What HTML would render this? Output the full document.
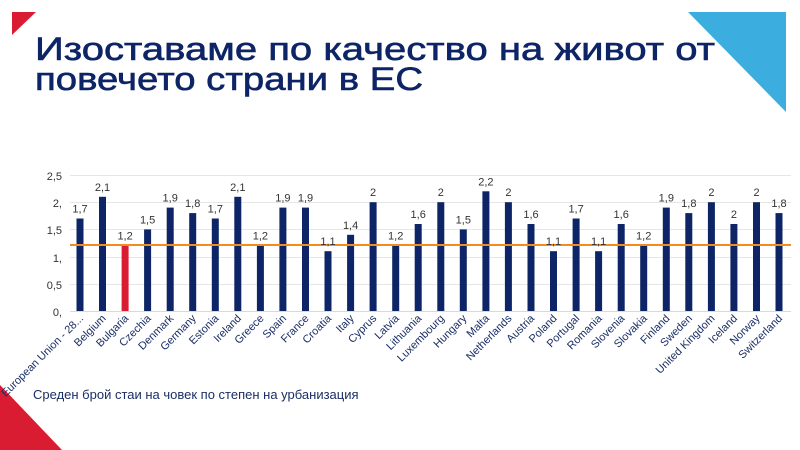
<!DOCTYPE html>
<html><head><meta charset="utf-8"><style>
html,body{margin:0;padding:0;background:#fff;}
svg{display:block;font-family:"Liberation Sans","DejaVu Sans",sans-serif;}
</style></head><body>
<svg width="800" height="450" viewBox="0 0 800 450">
<polygon points="12,12 36,12 12,35" fill="#d91c32"/>
<polygon points="688,12 786,12 786,112" fill="#3badde"/>
<polygon points="0,385 0,450 62,450" fill="#d91c32"/>
<text x="35" y="60" font-size="32" fill="#0d2566" stroke="#0d2566" stroke-width="0.6" textLength="680" lengthAdjust="spacingAndGlyphs">Изоставаме по качество на живот  от</text>
<text x="35" y="90" font-size="32" fill="#0d2566" stroke="#0d2566" stroke-width="0.6" textLength="388" lengthAdjust="spacingAndGlyphs">повечето страни в ЕС</text>
<g stroke="#e6e6e6" stroke-width="1">
<line x1="70" x2="791" y1="175.5" y2="175.5"/><line x1="70" x2="791" y1="202.5" y2="202.5"/>
<line x1="70" x2="791" y1="229.5" y2="229.5"/><line x1="70" x2="791" y1="257.5" y2="257.5"/>
<line x1="70" x2="791" y1="284.5" y2="284.5"/>
</g>
<line x1="70" x2="791" y1="311.5" y2="311.5" stroke="#d9d9d9"/>
<g font-size="11" fill="#333" text-anchor="end">
<text x="62" y="180">2,5</text><text x="62" y="207">2,</text><text x="62" y="234">1,5</text>
<text x="62" y="262">1,</text><text x="62" y="289">0,5</text><text x="62" y="316">0,</text>
</g>
<g fill="#0d2566">
<rect x="76.5" y="218.5" width="7" height="92.5"/>
<rect x="99" y="196.8" width="7" height="114.2"/>
<rect x="121.6" y="245.7" width="7" height="65.3" fill="#d91c32"/>
<rect x="144.1" y="229.4" width="7" height="81.6"/>
<rect x="166.7" y="207.6" width="7" height="103.4"/>
<rect x="189.2" y="213.1" width="7" height="97.9"/>
<rect x="211.8" y="218.5" width="7" height="92.5"/>
<rect x="234.3" y="196.8" width="7" height="114.2"/>
<rect x="256.9" y="245.7" width="7" height="65.3"/>
<rect x="279.4" y="207.6" width="7" height="103.4"/>
<rect x="302" y="207.6" width="7" height="103.4"/>
<rect x="324.5" y="251.2" width="7" height="59.8"/>
<rect x="347.1" y="234.8" width="7" height="76.2"/>
<rect x="369.6" y="202.2" width="7" height="108.8"/>
<rect x="392.2" y="245.7" width="7" height="65.3"/>
<rect x="414.7" y="224" width="7" height="87"/>
<rect x="437.3" y="202.2" width="7" height="108.8"/>
<rect x="459.8" y="229.4" width="7" height="81.6"/>
<rect x="482.4" y="191.3" width="7" height="119.7"/>
<rect x="504.9" y="202.2" width="7" height="108.8"/>
<rect x="527.5" y="224" width="7" height="87"/>
<rect x="550" y="251.2" width="7" height="59.8"/>
<rect x="572.6" y="218.5" width="7" height="92.5"/>
<rect x="595.1" y="251.2" width="7" height="59.8"/>
<rect x="617.7" y="224" width="7" height="87"/>
<rect x="640.2" y="245.7" width="7" height="65.3"/>
<rect x="662.8" y="207.6" width="7" height="103.4"/>
<rect x="685.3" y="213.1" width="7" height="97.9"/>
<rect x="707.9" y="202.2" width="7" height="108.8"/>
<rect x="730.4" y="224" width="7" height="87"/>
<rect x="753" y="202.2" width="7" height="108.8"/>
<rect x="775.5" y="213.1" width="7" height="97.9"/>
</g>
<line x1="70" x2="791" y1="245" y2="245" stroke="#f28c1e" stroke-width="2"/>
<g font-size="11" fill="#333" text-anchor="middle">
<text x="80" y="212.5">1,7</text>
<text x="102.5" y="190.8">2,1</text>
<text x="125.1" y="239.7">1,2</text>
<text x="147.6" y="223.4">1,5</text>
<text x="170.2" y="201.6">1,9</text>
<text x="192.7" y="207.1">1,8</text>
<text x="215.3" y="212.5">1,7</text>
<text x="237.8" y="190.8">2,1</text>
<text x="260.4" y="239.7">1,2</text>
<text x="282.9" y="201.6">1,9</text>
<text x="305.5" y="201.6">1,9</text>
<text x="328" y="245.2">1,1</text>
<text x="350.6" y="228.8">1,4</text>
<text x="373.1" y="196.2">2</text>
<text x="395.7" y="239.7">1,2</text>
<text x="418.2" y="218">1,6</text>
<text x="440.8" y="196.2">2</text>
<text x="463.3" y="223.4">1,5</text>
<text x="485.9" y="185.3">2,2</text>
<text x="508.4" y="196.2">2</text>
<text x="531" y="218">1,6</text>
<text x="553.5" y="245.2">1,1</text>
<text x="576.1" y="212.5">1,7</text>
<text x="598.6" y="245.2">1,1</text>
<text x="621.2" y="218">1,6</text>
<text x="643.7" y="239.7">1,2</text>
<text x="666.3" y="201.6">1,9</text>
<text x="688.8" y="207.1">1,8</text>
<text x="711.4" y="196.2">2</text>
<text x="733.9" y="218">2</text>
<text x="756.5" y="196.2">2</text>
<text x="779" y="207.1">1,8</text>
</g>
<g font-size="11" fill="#1a2e66" text-anchor="end">
<text transform="translate(84,319) rotate(-45)">European Union - 28...</text>
<text transform="translate(106.5,319) rotate(-45)">Belgium</text>
<text transform="translate(129.1,319) rotate(-45)">Bulgaria</text>
<text transform="translate(151.6,319) rotate(-45)">Czechia</text>
<text transform="translate(174.2,319) rotate(-45)">Denmark</text>
<text transform="translate(196.7,319) rotate(-45)">Germany</text>
<text transform="translate(219.3,319) rotate(-45)">Estonia</text>
<text transform="translate(241.8,319) rotate(-45)">Ireland</text>
<text transform="translate(264.4,319) rotate(-45)">Greece</text>
<text transform="translate(286.9,319) rotate(-45)">Spain</text>
<text transform="translate(309.5,319) rotate(-45)">France</text>
<text transform="translate(332,319) rotate(-45)">Croatia</text>
<text transform="translate(354.6,319) rotate(-45)">Italy</text>
<text transform="translate(377.1,319) rotate(-45)">Cyprus</text>
<text transform="translate(399.7,319) rotate(-45)">Latvia</text>
<text transform="translate(422.2,319) rotate(-45)">Lithuania</text>
<text transform="translate(444.8,319) rotate(-45)">Luxembourg</text>
<text transform="translate(467.3,319) rotate(-45)">Hungary</text>
<text transform="translate(489.9,319) rotate(-45)">Malta</text>
<text transform="translate(512.4,319) rotate(-45)">Netherlands</text>
<text transform="translate(535,319) rotate(-45)">Austria</text>
<text transform="translate(557.5,319) rotate(-45)">Poland</text>
<text transform="translate(580.1,319) rotate(-45)">Portugal</text>
<text transform="translate(602.6,319) rotate(-45)">Romania</text>
<text transform="translate(625.2,319) rotate(-45)">Slovenia</text>
<text transform="translate(647.7,319) rotate(-45)">Slovakia</text>
<text transform="translate(670.3,319) rotate(-45)">Finland</text>
<text transform="translate(692.8,319) rotate(-45)">Sweden</text>
<text transform="translate(715.4,319) rotate(-45)">United Kingdom</text>
<text transform="translate(737.9,319) rotate(-45)">Iceland</text>
<text transform="translate(760.5,319) rotate(-45)">Norway</text>
<text transform="translate(783,319) rotate(-45)">Switzerland</text>
</g>
<text x="33" y="399" font-size="13" fill="#1a2e66">Среден брой стаи на човек по степен на урбанизация</text>
</svg>
</body></html>
